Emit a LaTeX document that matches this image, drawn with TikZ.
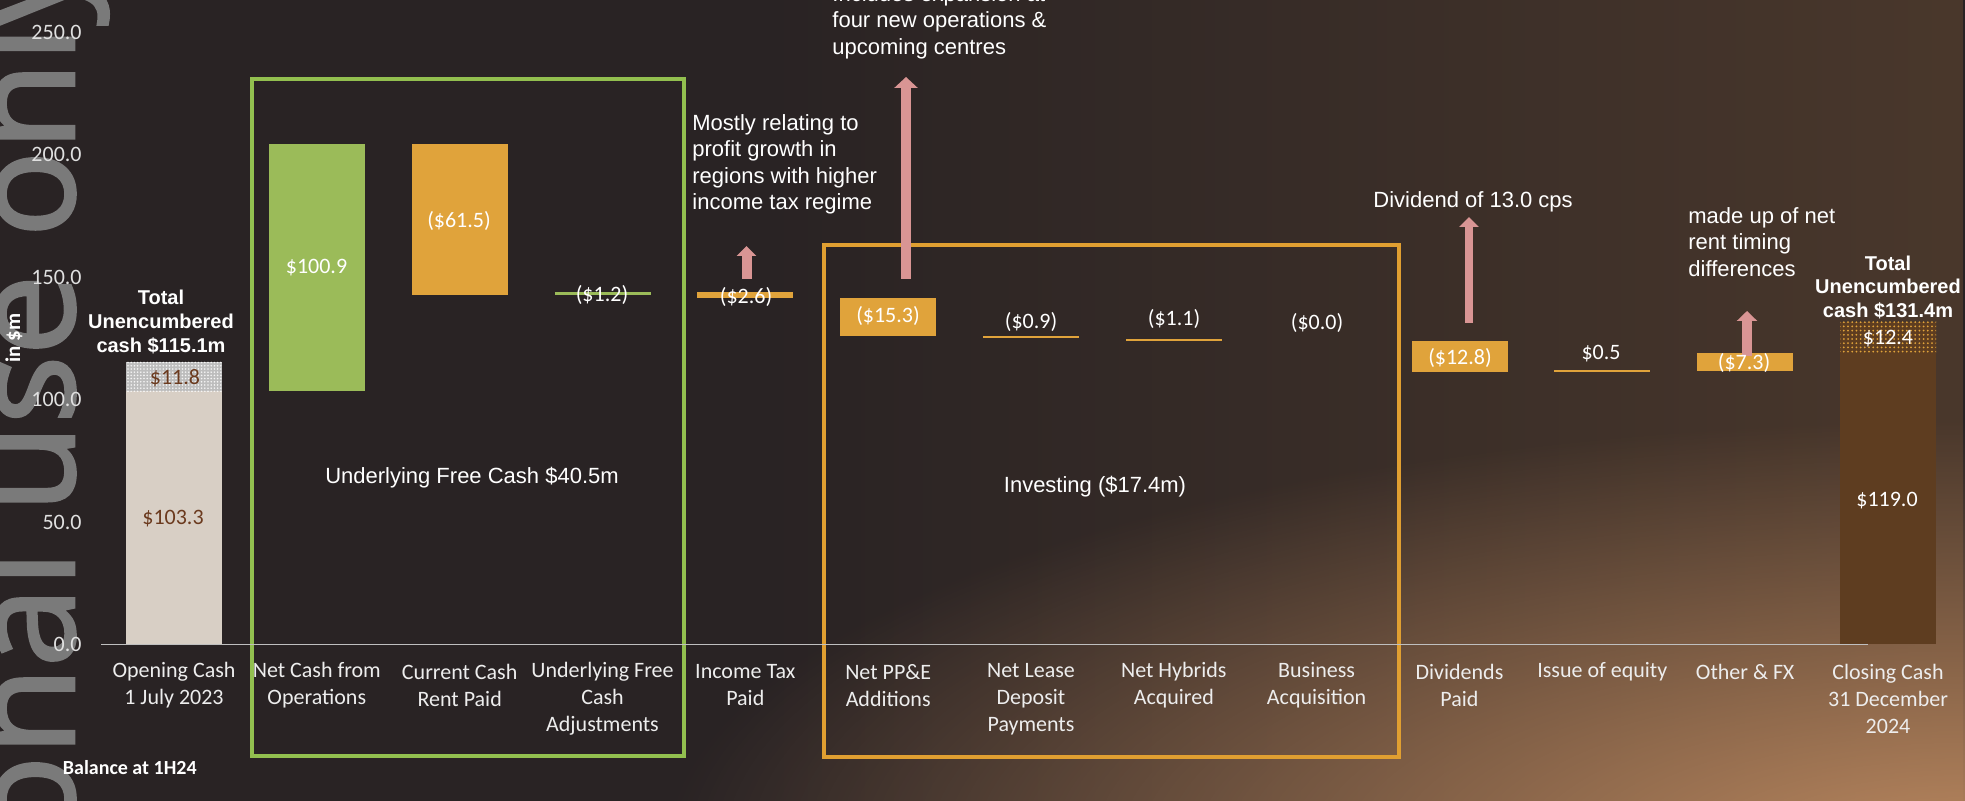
\documentclass[tikz,border=0pt]{standalone}
\usepackage{fontspec}
\setmainfont{Carlito}
\newfontfamily\arialf{Liberation Sans}
\newfontfamily\wmfont{Open Sans}[FakeBold=2]
\usetikzlibrary{arrows.meta,patterns.meta,fadings}
\definecolor{bgdark}{HTML}{292324}
\definecolor{bgbrown}{HTML}{4A382C}
\definecolor{floorc}{HTML}{B9875F}
\definecolor{grn}{HTML}{9BBB59}
\definecolor{grnbox}{HTML}{92BF4F}
\definecolor{org}{HTML}{E0A33B}
\definecolor{orgbox}{HTML}{E09F31}
\definecolor{beige}{HTML}{D8CFC5}
\definecolor{dotgrey}{HTML}{BDBDBD}
\definecolor{cbrown}{HTML}{5E3D20}
\definecolor{lblbrown}{HTML}{6B3A1E}
\definecolor{pinkar}{HTML}{D99594}
\definecolor{axl}{HTML}{E0E0E0}
\definecolor{lbl}{HTML}{EDEDED}
\definecolor{axline}{HTML}{BFBFBF}
\definecolor{wmfill}{HTML}{7A7A7A}
\tikzfading[name=fadeleft, left color=transparent!100, right color=transparent!0]
\tikzfading[name=glow, inner color=transparent!0, outer color=transparent!100]
\begin{document}
\begin{tikzpicture}[x=0.5pt,y=-0.5pt,
  catlbl/.style={font={\fontsize{11pt}{13.5pt}\selectfont}, align=center, text=lbl, inner sep=0pt},
  vallbl/.style={font={\fontsize{11pt}{13.5pt}\selectfont}, text=white, inner sep=0pt},
  axlbl/.style={font={\fontsize{11pt}{13.5pt}\selectfont}, text=axl, inner sep=0pt, anchor=east},
  note/.style={font={\arialf\fontsize{11pt}{13.2pt}\selectfont}, align=left, text=white, inner sep=0pt, anchor=west},
  boldnote/.style={font={\arialf\bfseries\fontsize{10pt}{11.9pt}\selectfont}, align=center, text=white, inner sep=0pt},
  grpbox/.style={line width=2pt},
  upar/.style args={#1/#2/#3}{draw=pinkar, line width=#1, -{Triangle[width=#2,length=#3]}},
  wmark/.style={rotate=90, inner sep=0pt, text=wmfill, font={\wmfont\fontsize{72pt}{75pt}\selectfont}}
]
\useasboundingbox (0,0) rectangle (1965,801);
\clip (0,0) rectangle (1965,801);
% background
\fill[bgdark] (0,0) rectangle (1965,801);
\fill[bgbrown, path fading=fadeleft] (750,0) rectangle (1965,801);
\fill[floorc, path fading=glow] (1965,850) ellipse [x radius=1300, y radius=430];
% watermark
\node[wmark, anchor=base east] (wm1) at (74,550) {For personal};
\node[wmark, anchor=base west] (wm2) at (74,513) {use only};
% group boxes
\draw[grpbox, grnbox] (252,79) rectangle (684,756);
\draw[grpbox, orgbox] (823.5,245) rectangle (1399,757);
% bars
\fill[beige] (126,391.4) rectangle (222,644.5);
\fill[dotgrey] (126,362) rectangle (222,391.4);
\fill[pattern={Dots[distance=1.6pt,radius=0.45pt]}, pattern color=white!92!gray] (126,362) rectangle (222,391.4);
\fill[grn] (268.8,144) rectangle (364.8,391.5);
\fill[org] (411.7,144) rectangle (507.7,295);
\fill[grn] (554.5,292) rectangle (650.5,295);
\fill[org] (697.3,292) rectangle (793.3,298.5);
\fill[org] (840.2,298) rectangle (936.2,336);
\fill[org] (983,336.5) rectangle (1079,338.5);
\fill[org] (1125.8,339) rectangle (1221.8,341);
\fill[org] (1411.5,341) rectangle (1507.5,372);
\fill[org] (1554.3,370.5) rectangle (1650.3,372);
\fill[org] (1697.1,353) rectangle (1793.1,371);
\fill[cbrown] (1840,353) rectangle (1936,644.5);
\fill[cbrown] (1840,322) rectangle (1936,353);
\fill[pattern={Dots[distance=2.1pt,radius=0.5pt]}, pattern color=org] (1840,322) rectangle (1936,353);
% axis
\draw[axline, line width=0.75pt] (101,644.5) -- (1868,644.5);
\foreach \v/\n in {250.0/250,200.0/200,150.0/150,100.0/100,50.0/50,0.0/0}
  \node[axlbl] (ax\n) at (82,{644.5-2.45*\n}) {\v};
\node[rotate=90, inner sep=0pt, text=white, font={\bfseries\fontsize{10.5pt}{12pt}\selectfont}] (unit) at (14,338) {in \$m};
% category labels
\node[catlbl] (c0) at (174,685.5) {Opening Cash\\1 July 2023};
\node[catlbl] (c1) at (316.8,685.5) {Net Cash from\\Operations};
\node[catlbl] (c2) at (459.7,685.5) {Current Cash\\Rent Paid};
\node[catlbl] (c3) at (602.5,699) {Underlying Free\\Cash\\Adjustments};
\node[catlbl] (c4) at (745.3,685.5) {Income Tax\\Paid};
\node[catlbl] (c5) at (888.2,685.5) {Net PP\&E\\Additions};
\node[catlbl] (c6) at (1031,699) {Net Lease\\Deposit\\Payments};
\node[catlbl] (c7) at (1173.8,685.5) {Net Hybrids\\Acquired};
\node[catlbl] (c8) at (1316.6,685.5) {Business\\Acquisition};
\node[catlbl] (c9) at (1459.5,685.5) {Dividends\\Paid};
\node[catlbl] (c10) at (1602.3,672) {Issue of equity};
\node[catlbl] (c11) at (1745.1,672) {Other \& FX};
\node[catlbl] (c12) at (1888,699) {Closing Cash\\31 December\\2024};
% value labels
\node[vallbl, text=lblbrown] (v0a) at (173,519) {\$103.3};
\node[vallbl, text=lblbrown] (v0b) at (175,378) {\$11.8};
\node[vallbl] (v1) at (316.5,268) {\$100.9};
\node[vallbl] (v2) at (459,221) {(\$61.5)};
\node[vallbl] (v3) at (602,295) {(\$1.2)};
\node[vallbl] (v4) at (746,297) {(\$2.6)};
\node[vallbl] (v5) at (888,316) {(\$15.3)};
\node[vallbl] (v6) at (1031,322) {(\$0.9)};
\node[vallbl] (v7) at (1174,319) {(\$1.1)};
\node[vallbl] (v8) at (1317,323) {(\$0.0)};
\node[vallbl] (v9) at (1460,358) {(\$12.8)};
\node[vallbl] (v10) at (1601,354) {\$0.5};
\node[vallbl] (v12a) at (1888,339) {\$12.4};
\node[vallbl] (v12b) at (1887,501) {\$119.0};
% arrows
\coordinate (a1s) at (746.5,279); \coordinate (a1e) at (746.5,246);
\coordinate (a2s) at (906,279);   \coordinate (a2e) at (906,77);
\coordinate (a3s) at (1469,323);  \coordinate (a3e) at (1469,217);
\coordinate (a4s) at (1747,356);  \coordinate (a4e) at (1747,311);
\draw[upar={5pt/9.5pt/5pt}] (a1s) -- (a1e);
\draw[upar={5pt/11.5pt/5.5pt}] (a2s) -- (a2e);
\draw[upar={4.3pt/9.5pt/5pt}] (a3s) -- (a3e);
\draw[upar={5pt/10pt/5pt}] (a4s) -- (a4e);
\node[vallbl] (v11) at (1744,363) {(\$7.3)};
% notes
\node[note] (n1) at (692,164.5) {Mostly relating to\\profit growth in\\regions with higher\\income tax regime};
\node[note] (n2) at (832,22) {Includes expansion at\\four new operations \&\\upcoming centres};
\node[note] (n3) at (1373,202) {Dividend of 13.0 cps};
\node[note] (n4) at (1688,242) {made up of net\\rent timing\\differences};
\node[note, anchor=center] (g1) at (472,478) {Underlying Free Cash \$40.5m};
\node[note, anchor=center] (g2) at (1095,487) {Investing (\$17.4m)};
\node[boldnote] (t1) at (161,322) {Total\\Unencumbered\\cash \$115.1m};
\node[boldnote] (t2) at (1888,287.5) {Total\\Unencumbered\\cash \$131.4m};
\node[inner sep=0pt, anchor=west, text=white, font={\bfseries\fontsize{10pt}{12pt}\selectfont}] (bal) at (62.5,768) {Balance at 1H24};
\end{tikzpicture}
\end{document}
